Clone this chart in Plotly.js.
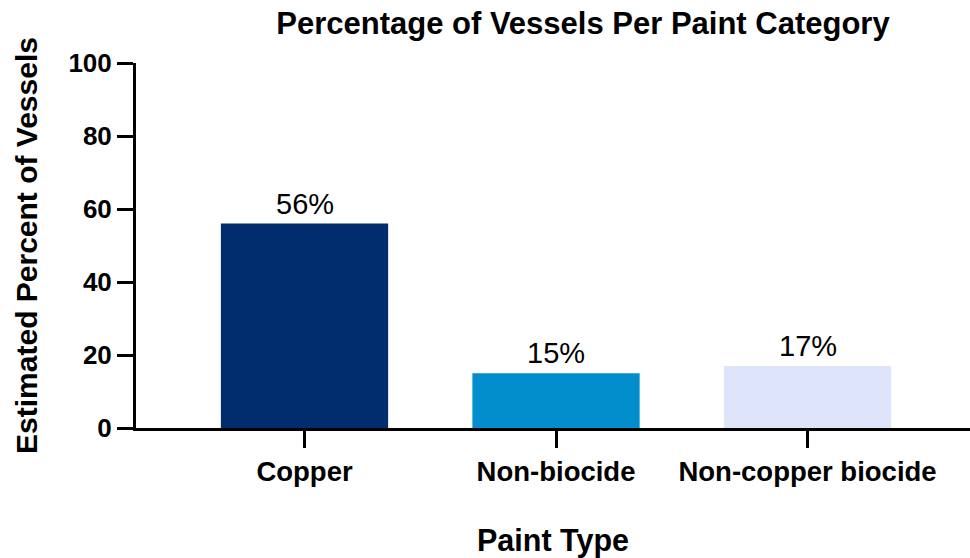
<!DOCTYPE html>
<html>
<head>
<meta charset="utf-8">
<script src="https://cdn.plot.ly/plotly-3.0.1.min.js"></script>
<style>html,body{margin:0;padding:0;background:#fff;}#chart{width:970px;height:558px;}</style>
</head>
<body>
<div id="chart"></div>
<script>
const categories = ["Copper", "Non-biocide", "Non-copper biocide"];
const percentValues = [56, 15, 17];
const barLabels = ["56%", "15%", "17%"];
const barColors = ["#012d6e", "#028dcc", "#dee5fb"];
const yTickValues = [0, 20, 40, 60, 80, 100];

const FONT = "Liberation Sans, Arial, sans-serif";

const trace = {
  type: "bar",
  x: categories,
  y: percentValues,
  width: 0.665,
  marker: {color: barColors, line: {width: 0}},
  hoverinfo: "skip"
};

const annotations = categories.map((c, i) => ({
  x: c, y: percentValues[i], xref: "x", yref: "y",
  text: barLabels[i], showarrow: false,
  yanchor: "bottom", yshift: 2,
  font: {family: FONT, size: 29, color: "#000"}
}));

const layout = {
  width: 970, height: 558,
  margin: {l: 136, r: 0, t: 63, b: 130, pad: 0},
  paper_bgcolor: "#fff", plot_bgcolor: "#fff",
  showlegend: false,
  font: {family: FONT, color: "#000"},
  title: {
    text: "<b>Percentage of Vessels Per Paint Category</b>",
    font: {family: FONT, size: 31, color: "#000"},
    xref: "container", x: 0.601, xanchor: "center",
    yref: "container", y: 0.958, yanchor: "middle"
  },
  xaxis: {
    type: "category",
    range: [-0.67, 2.646],
    showline: true, linecolor: "#000", linewidth: 3,
    ticks: "outside", ticklen: 17, tickwidth: 3, tickcolor: "#000",
    showgrid: false, zeroline: false,
    tickfont: {family: FONT, size: 27.5, color: "#000", weight: "bold"},
    title: {text: "<b>Paint Type</b>", font: {family: FONT, size: 30.5, color: "#000"}, standoff: 46}
  },
  yaxis: {
    range: [0, 100],
    tickvals: yTickValues,
    showline: true, linecolor: "#000", linewidth: 3,
    ticks: "outside", ticklen: 16, tickwidth: 3, tickcolor: "#000",
    showgrid: false, zeroline: false,
    tickfont: {family: FONT, size: 26, color: "#000", weight: "bold"},
    title: {text: "<b>Estimated Percent of Vessels</b>", font: {family: FONT, size: 30, color: "#000"}, standoff: 22}
  },
  annotations: annotations
};

Plotly.newPlot("chart", [trace], layout, {displayModeBar: false, staticPlot: true});
</script>
</body>
</html>
